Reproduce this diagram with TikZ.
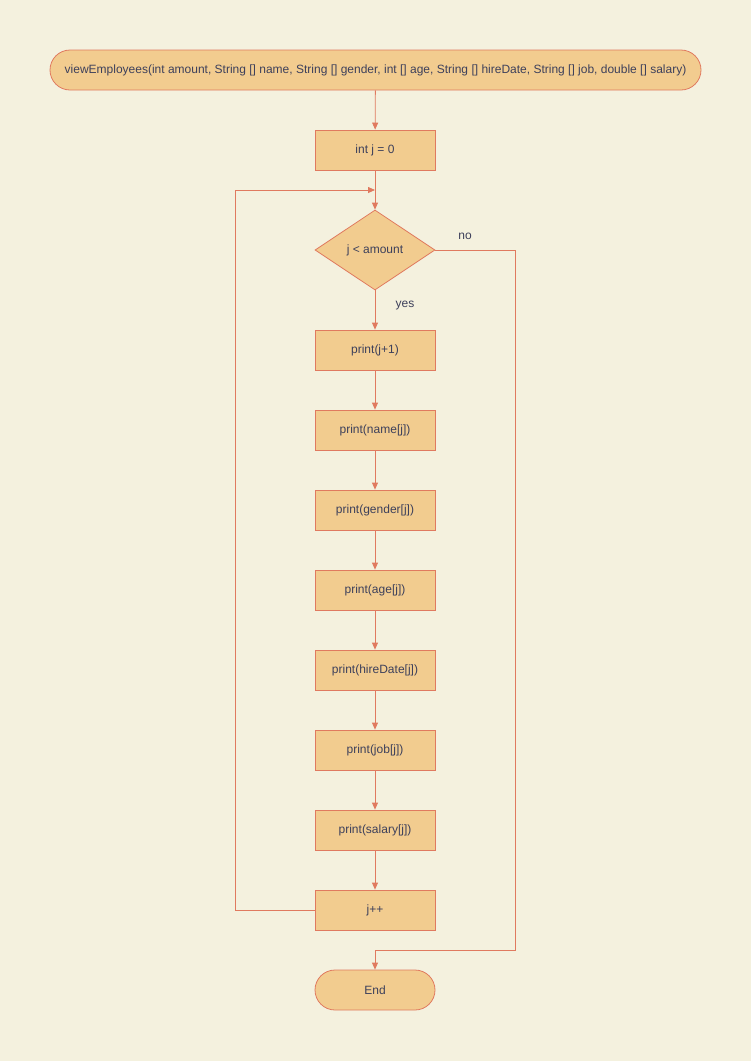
\documentclass[tikz,border=0pt]{standalone}
\usepackage{fontspec}
\setmainfont{Liberation Sans}
\usetikzlibrary{shapes.geometric,arrows.meta}
\definecolor{bgcream}{HTML}{F4F1DE}
\definecolor{boxfill}{HTML}{F2CC8F}
\definecolor{boxline}{HTML}{E07A5F}
\definecolor{txt}{HTML}{3D405B}
\begin{document}
\begin{tikzpicture}
  [x=1pt,y=-1pt,line width=0.8pt,
   every node/.style={text=txt,font=\fontsize{12}{14}\selectfont},
   proc/.style={rectangle,draw=boxline,fill=boxfill,minimum width=120pt,minimum height=40pt,inner sep=0pt},
   term/.style={proc,rounded corners=20pt},
   cond/.style={diamond,draw=boxline,fill=boxfill,minimum width=120pt,minimum height=80pt,inner sep=0pt,aspect=1.5},
   arr/.style={draw=boxline,-{Triangle[length=7pt,width=6pt]}}]
  \fill[bgcream] (0,0) rectangle (751,1061);
  \node[term,minimum width=651pt] (start) at (375.5,70) {viewEmployees(int amount, String [] name, String [] gender, int [] age, String [] hireDate, String [] job, double [] salary)};
  \node[proc] (init) at (375,150) {int j = 0};
  \node[cond] (test) at (375,250) {j < amount};
  \node[proc] (pj) at (375,350) {print(j+1)};
  \node[proc] (pname) at (375,430) {print(name[j])};
  \node[proc] (pgender) at (375,510) {print(gender[j])};
  \node[proc] (page) at (375,590) {print(age[j])};
  \node[proc] (phire) at (375,670) {print(hireDate[j])};
  \node[proc] (pjob) at (375,750) {print(job[j])};
  \node[proc] (psal) at (375,830) {print(salary[j])};
  \node[proc] (inc) at (375,910) {j++};
  \node[term] (end) at (375,990) {End};

  \coordinate (lbend) at (235,190);
  \coordinate (lp) at (375,190);
  \coordinate (rbot) at (515,950);

  \node at (465,236) {no};
  \node at (405,306) {yes};

  \foreach \from/\to in {start/init,init/test,test/pj,pj/pname,pname/pgender,pgender/page,page/phire,phire/pjob,pjob/psal,psal/inc}
    \draw[arr] (\from) -- (\to);
  \draw[arr] (inc.west) -| (lbend) -- (lp);
  \draw[arr] (test.east) -| (rbot) -| (end.north);
\end{tikzpicture}
\end{document}
